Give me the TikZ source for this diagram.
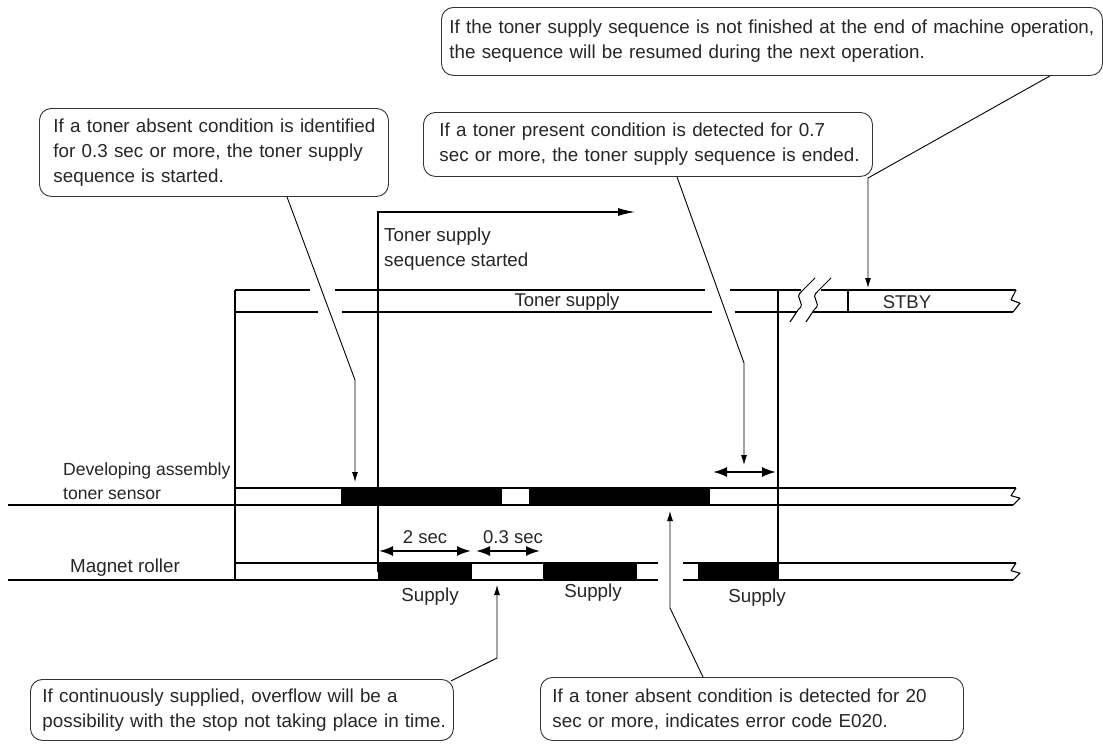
\documentclass[tikz,border=0pt]{standalone}
\usepackage{fontspec}
\setmainfont{Liberation Sans}
\usetikzlibrary{arrows.meta}

\newcommand{\notefont}{\fontsize{18.8}{25}\selectfont}
\newcommand{\chartfont}{\fontsize{18.5}{24.5}\selectfont}

\tikzset{
  callout/.style={draw=black!80, line width=0.9pt, rounded corners=12pt,
    anchor=north west, align=left, inner ysep=0pt,
    font=\notefont, text=black!85},
  chartlabel/.style={font=\chartfont, text=black!85, inner sep=0pt},
  pointer/.style={line width=0.9pt, -{Latex[length=10pt,width=6pt]}},
  dimarrow/.style={line width=2pt,
    {Latex[length=14pt,width=10pt]}-{Latex[length=14pt,width=10pt]}},
  barline/.style={line width=1.1pt},
}

\begin{document}
\begin{tikzpicture}[x=1pt,y=-1pt]
    \useasboundingbox (0,0) rectangle (1103,744);

    % notes
    \node[callout, inner xsep=8pt, text width=645pt, minimum height=68pt] (cbResume) at (441,7)
        {\mbox{If the toner supply sequence is not finished at the end of machine operation,}\\
         \mbox{the sequence will be resumed during the next operation.}};
    \node[callout, inner xsep=14pt, text width=321pt, minimum height=88pt] (cbAbsent) at (39,108)
        {\mbox{If a toner absent condition is identified}\\
         \mbox{for 0.3 sec or more, the toner supply}\\
         \mbox{sequence is started.}};
    \node[callout, inner xsep=16pt, text width=417pt, minimum height=64pt] (cbPresent) at (423,112)
        {\mbox{If a toner present condition is detected for 0.7}\\
         \mbox{sec or more, the toner supply sequence is ended.}};
    \node[callout, inner xsep=12pt, text width=399pt, minimum height=61pt] (cbOverflow) at (30,679)
        {\mbox{If continuously supplied, overflow will be a}\\
         \mbox{possibility with the stop not taking place in time.}};
    \node[callout, inner xsep=12pt, text width=399pt, minimum height=63pt] (cbError) at (540,677)
        {\mbox{If a toner absent condition is detected for 20}\\
         \mbox{sec or more, indicates error code E020.}};

    % row labels
    \node[chartlabel, font=\fontsize{17.6}{24.5}\selectfont, anchor=west, align=left]
        (lblSensor) at (63,481) {Developing assembly\\toner sensor};
    \node[chartlabel, font=\notefont, anchor=west] (lblRoller) at (70,568) {Magnet roller};
    \node[chartlabel, font=\notefont, anchor=west, align=left] (lblStart) at (384,249)
        {Toner supply\\sequence started};
    \node[chartlabel] (lblSupplyBar) at (567,302) {Toner supply};
    \node[chartlabel] (lblStby) at (907,302) {STBY};
    \node[chartlabel] (lblTwo) at (425,537) {2 sec};
    \node[chartlabel] (lblPoint) at (513,537) {0.3 sec};
    \node[chartlabel, font=\notefont] (lblSupplyA) at (430,597) {Supply};
    \node[chartlabel, font=\notefont] (lblSupplyB) at (593,593) {Supply};
    \node[chartlabel, font=\notefont] (lblSupplyC) at (757,598) {Supply};

    % toner supply row
    \draw[barline] (235,290) -- (310,290) (335,290) -- (705,290) (730,290) -- (801,290)
                   (821,290) -- (1016,290);
    \draw[barline] (235,312) -- (318,312) (342,312) -- (712,312) (735,312) -- (797,312)
                   (813,312) -- (1013,312);
    \foreach \x in {790,806}
        \draw[line width=1pt] (\x,322) -- ({\x+8},310)
            .. controls ({\x+18},302) and ({\x+2},299) .. ({\x+12},291) -- ({\x+25},278);
    \draw[barline] (848,290) -- (848,312);

    % sensor row
    \fill (341,488) rectangle (502,505);
    \fill (529,488) rectangle (710,505);
    \draw[barline] (235,488) -- (1016,488);
    \draw[barline] (8,505) -- (1013,505);

    % magnet roller row
    \fill (378,563) rectangle (472,580);
    \fill (543,563) rectangle (637,580);
    \fill (698,563) rectangle (778,580);
    \draw[barline] (235,563) -- (658,563) (683,563) -- (1016,563);
    \draw[barline] (8,580) -- (658,580) (683,580) -- (1013,580);

    % broken ends
    \foreach \y/\h in {290/22, 488/17, 563/17}
        \draw[barline, line join=round] (1016,\y) -- (1011,{\y+0.45*\h})
            -- (1020,{\y+0.6*\h}) -- (1013,{\y+\h});

    % timing lines
    \draw[barline] (235,290) -- (235,580);
    \draw[barline] (778,290) -- (778,580);
    \draw[barline, -{Latex[length=17pt,width=8pt]}] (378,572) -- (378,212) -- (635,212);

    % periods
    \coordinate (presentL) at (713,472);
    \coordinate (presentR) at (776,472);
    \coordinate (twoL) at (379,551);
    \coordinate (twoR) at (471,551);
    \coordinate (pointL) at (476,551);
    \coordinate (pointR) at (540,551);
    \draw[dimarrow] (presentL) -- (presentR);
    \draw[dimarrow] (twoL) -- (twoR);
    \draw[dimarrow] (pointL) -- (pointR);

    % pointers
    \coordinate (bendResume) at (868,178);
    \coordinate (tipResume) at (868,288);
    \coordinate (bendAbsent) at (355,380);
    \coordinate (tipAbsent) at (355,482);
    \coordinate (bendPresent) at (744,363);
    \coordinate (tipPresent) at (744,465);
    \coordinate (bendOverflow) at (497,658);
    \coordinate (tipOverflow) at (497,585);
    \coordinate (bendError) at (670,608);
    \coordinate (tipError) at (670,511);
    \draw[pointer] ([xshift=609pt]cbResume.south west) -- (bendResume) -- (tipResume);
    \draw[pointer] ([xshift=248pt]cbAbsent.south west) -- (bendAbsent) -- (tipAbsent);
    \draw[pointer] ([xshift=254pt]cbPresent.south west) -- (bendPresent) -- (tipPresent);
    \draw[pointer] ([xshift=-3pt,yshift=-2pt]cbOverflow.north east) -- (bendOverflow) -- (tipOverflow);
    \draw[pointer] ([xshift=163pt]cbError.north west) -- (bendError) -- (tipError);
\end{tikzpicture}
\end{document}
